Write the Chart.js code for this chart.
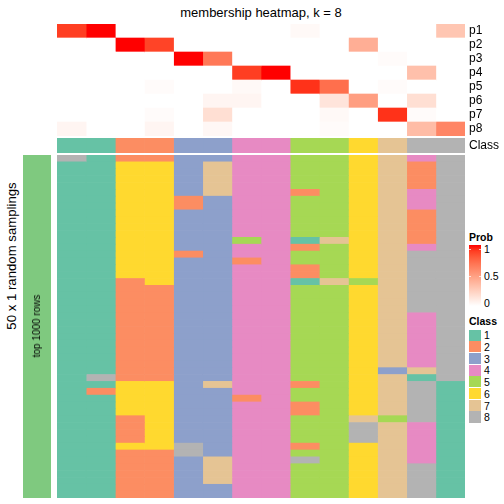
<!DOCTYPE html>
<html>
<head>
<meta charset="utf-8">
<script src="https://cdn.jsdelivr.net/npm/chart.js@4.4.1/dist/chart.umd.min.js"></script>
<style>
  body{margin:0;background:#fff;font-family:"Liberation Sans",Arial,Helvetica,sans-serif}
  #wrap{position:relative;width:504px;height:504px;overflow:hidden;background:#fff}
  canvas{position:absolute}
  .txt{position:absolute;color:#000;white-space:nowrap;line-height:1}
  .mid{transform:translate(-50%,-50%)}
  .vert{transform:translate(-50%,-50%) rotate(-90deg)}
  .lab{transform:translateY(-50%)}
  .box{position:absolute}
</style>
</head>
<body>
<div id="wrap">
  <div class="txt mid" style="left:261px;top:12px;font-size:13px">membership heatmap, k = 8</div>
  <div class="txt vert" style="left:12px;top:256px;font-size:13.2px">50 x 1 random samplings</div>

  <canvas id="prob-chart" width="447" height="112" style="left:57px;top:24px"></canvas>
  <canvas id="class-chart" width="447" height="15" style="left:57px;top:138px"></canvas>
  <canvas id="sample-chart" width="408" height="343" style="left:57px;top:155px"></canvas>
  <canvas id="row-chart" width="28" height="343" style="left:23px;top:155px"></canvas>
  <div class="txt vert" style="left:37px;top:326px;font-size:10px">top 1000 rows</div>

  <div id="legend"></div>
</div>

<script>
//----------------------------------DATA-----------------------------------------------------------

const COLUMNS = 14
const probLabels = ['p1','p2','p3','p4','p5','p6','p7','p8']
// membership probability of each of the 14 columns
const p1 = [0.9, 1, 0, 0, 0, 0, 0, 0, 0.03, 0, 0, 0, 0, 0.3]
const p2 = [0, 0, 1, 0.88, 0, 0, 0, 0, 0, 0, 0.42, 0, 0, 0]
const p3 = [0, 0, 0, 0, 1, 0.68, 0, 0, 0, 0, 0, 0.02, 0, 0]
const p4 = [0, 0, 0, 0, 0, 0, 0.9, 1, 0, 0, 0, 0, 0.33, 0]
const p5 = [0, 0, 0, 0.02, 0, 0, 0.03, 0, 0.93, 0.72, 0, 0.02, 0, 0]
const p6 = [0, 0, 0, 0, 0, 0.05, 0.05, 0, 0, 0.14, 0.5, 0, 0.17, 0]
const p7 = [0, 0, 0, 0.02, 0, 0.17, 0, 0, 0, 0.03, 0, 0.93, 0.02, 0]
const p8 = [0.05, 0, 0, 0.05, 0, 0.04, 0, 0, 0, 0.02, 0, 0, 0.35, 0.62]
const probValues = [p1, p2, p3, p4, p5, p6, p7, p8]

const columnClass = [1, 1, 2, 2, 3, 3, 4, 4, 5, 5, 6, 7, 8, 8]
const classLabels = ['1','2','3','4','5','6','7','8']
const classColors = ['#66C2A5','#FC8D62','#8DA0CB','#E78AC3','#A6D854','#FFD92F','#E5C494','#B3B3B3']
const probTicks = ['1','0.5','0']

// one string per random sampling, one digit (class) per column
const samplingRows = [
  '81223344556748',
  '11663744556728',
  '11663744556728',
  '11663744556728',
  '11663744556728',
  '11663744256748',
  '11662344556748',
  '11662344556748',
  '11663344556728',
  '11663344556728',
  '11663344556728',
  '11663344556728',
  '11663354176728',
  '11663344256748',
  '11662344556788',
  '11663324556788',
  '11663344256788',
  '11663344256788',
  '11263344175788',
  '11223344556788',
  '11223344556788',
  '11223344556788',
  '11223344556788',
  '11223344556748',
  '11223344556748',
  '11223344556748',
  '11223344556748',
  '11223344556748',
  '11223344556748',
  '11223344556748',
  '11223344556748',
  '11223344556378',
  '18223344556718',
  '11663744256781',
  '12663344556781',
  '11663324556781',
  '11663344256781',
  '11663344256781',
  '11263344557581',
  '11263344558741',
  '11263344558741',
  '11263344558741',
  '11668344256741',
  '11228344556741',
  '11223744856741',
  '11223744556781',
  '11223744556781',
  '11223744556781',
  '11223344556781',
  '11223344556781'
]
const rowGroup = ['top 1000 rows']
const rowGroupColor = '#7FC97F'

const FONT = '"Liberation Sans", Arial, Helvetica, sans-serif'

//----------------------------------COLOUR UTILITY-----------------------------------------------------

// white -> red, interpolated in LAB space
function probColor(v){
  let L = 100 + (53.24 - 100) * v
  let A = 80.09 * v
  let B = 67.2 * v
  let fy = (L + 16) / 116
  let fx = fy + A / 500
  let fz = fy - B / 200
  let f = (t) => t > 0.206897 ? t * t * t : (t - 16 / 116) / 7.787
  let X = 0.95047 * f(fx), Y = f(fy), Z = 1.08883 * f(fz)
  let rgb = [
    3.2406 * X - 1.5372 * Y - 0.4986 * Z,
    -0.9689 * X + 1.8758 * Y + 0.0415 * Z,
    0.0557 * X - 0.2040 * Y + 1.0570 * Z
  ].map((c) => {
    c = c <= 0.0031308 ? 12.92 * c : 1.055 * Math.pow(c, 1 / 2.4) - 0.055
    return Math.round(Math.min(1, Math.max(0, c)) * 255)
  })
  return `rgb(${rgb[0]},${rgb[1]},${rgb[2]})`
}

//----------------------------------CHART UTILITY-----------------------------------------------------

function cellDataset(colors){
  return {
    data: colors.map(() => 1),
    backgroundColor: colors,
    borderWidth: 0,
    barPercentage: 1,
    categoryPercentage: 1
  }
}

function getConfig(labels, datasets, xMax, showLabels){
  let y = {stacked: true, display: false}
  if(showLabels){
    y = {
      stacked: true,
      position: 'right',
      grid: {display: false, drawTicks: false},
      border: {display: false},
      ticks: {color: '#000', font: {family: FONT, size: 12}, padding: 4, autoSkip: false},
      afterFit: (scale) => {
        scale.width = 39
        scale.paddingTop = 0
        scale.paddingBottom = 0
      }
    }
  }
  return {
    type: 'bar',
    data: {labels: labels, datasets: datasets},
    options: {
      indexAxis: 'y',
      responsive: false,
      animation: false,
      events: [],
      layout: {padding: 0},
      plugins: {legend: {display: false}, tooltip: {enabled: false}},
      scales: {
        x: {stacked: true, min: 0, max: xMax, display: false},
        y: y
      }
    }
  }
}

//----------------------------------MAIN STUFF------------------------------------------------------

let probSets = []
let classSets = []
let sampleSets = []
for(let j = 0; j < COLUMNS; j++){
  probSets.push(cellDataset(probValues.map((row) => probColor(row[j]))))
  classSets.push(cellDataset([classColors[columnClass[j] - 1]]))
  sampleSets.push(cellDataset(samplingRows.map((row) => classColors[Number(row[j]) - 1])))
}

new Chart(document.getElementById('prob-chart'), getConfig(probLabels, probSets, COLUMNS, true))
new Chart(document.getElementById('class-chart'), getConfig(['Class'], classSets, COLUMNS, true))
new Chart(document.getElementById('sample-chart'),
  getConfig(samplingRows.map((r, i) => String(i + 1)), sampleSets, COLUMNS, false))
new Chart(document.getElementById('row-chart'), getConfig(rowGroup, [cellDataset([rowGroupColor])], 1, false))

//----------------------------------LEGENDS------------------------------------------------------

const legend = document.getElementById('legend')
let html = ``
html += `<div class="txt lab" style="left:469px;top:237px;font-size:10.5px;font-weight:bold">Prob</div>`
let stops = []
for(let k = 0; k <= 10; k++) stops.push(`${probColor(1 - k / 10)} ${k * 10}%`)
html += `<div class="box" style="left:469px;top:245px;width:12px;height:61px;background:linear-gradient(to bottom, ${stops.join(',')})"></div>`
let tickY = [249, 276, 303]
probTicks.forEach((t, i) => {
  html += `<div class="txt lab" style="left:484px;top:${tickY[i]}px;font-size:10.5px">${t}</div>`
  if(i < 2){
    html += `<div class="box" style="left:469px;top:${tickY[i]}px;width:2px;height:1px;background:rgba(255,255,255,0.7)"></div>`
    html += `<div class="box" style="left:479px;top:${tickY[i]}px;width:2px;height:1px;background:rgba(255,255,255,0.7)"></div>`
  }
})
html += `<div class="txt lab" style="left:469px;top:321px;font-size:10.5px;font-weight:bold">Class</div>`
classLabels.forEach((c, i) => {
  let top = 329.5 + i * 11.7
  html += `<div class="box" style="left:469px;top:${top}px;width:12px;height:11.2px;background:${classColors[i]}"></div>`
  html += `<div class="txt lab" style="left:484px;top:${top + 5.8}px;font-size:10.5px">${c}</div>`
})
legend.innerHTML = html
</script>
</body>
</html>
